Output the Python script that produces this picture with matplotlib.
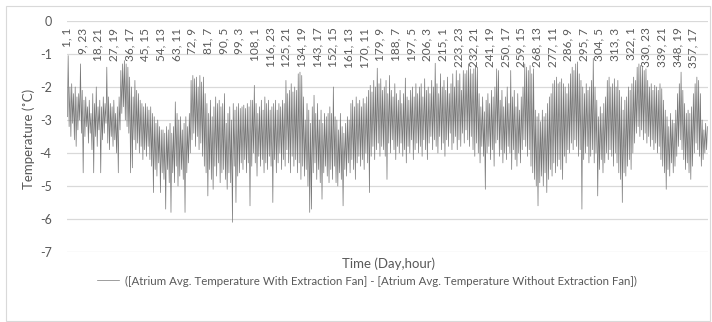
import numpy as np
import matplotlib
matplotlib.use('Agg')
import matplotlib.pyplot as plt
from matplotlib.patches import Rectangle

plt.rcParams['font.family'] = ['Lato', 'DejaVu Sans']

# Daily maximum of the hourly temperature difference (deg C), day 1..365
day_max = [
    -1.05, -2.0, -1.9, -2.2, -2.0, -2.3, -2.2, -1.3, -2.1, -2.4,
    -2.3, -2.6, -2.4, -2.8, -2.2, -2.5, -2.0, -2.6, -2.4, -2.6,
    -2.3, -2.5, -1.4, -2.3, -2.5, -2.6, -2.4, -2.8, -2.6, -2.3,
    -1.5, -1.3, -1.2, -1.3, -1.4, -1.7, -2.0, -2.3, -1.8, -2.1,
    -2.2, -2.4, -2.5, -2.6, -2.5, -2.6, -2.7, -2.6, -2.8, -2.9,
    -3.1, -3.0, -3.2, -3.3, -3.3, -3.4, -3.2, -3.3, -3.1, -3.4,
    -3.2, -2.45, -2.8, -3.0, -2.9, -3.3, -3.1, -2.9, -3.2, -2.8,
    -1.8, -1.65, -1.75, -1.7, -2.0, -1.65, -1.85, -1.7, -2.2, -2.5,
    -2.8, -2.4, -2.9, -2.6, -2.3, -2.5, -2.4, -2.6, -2.5, -2.2,
    -3.1, -2.8, -2.6, -3.0, -2.5, -2.7, -2.6, -2.5, -2.65, -2.6,
    -2.55, -2.65, -2.5, -2.6, -2.4, -2.4, -1.95, -2.5, -2.8, -2.6,
    -2.4, -2.7, -2.3, -2.5, -2.4, -2.7, -2.6, -2.5, -2.4, -2.7,
    -2.5, -2.6, -2.4, -2.5, -1.8, -2.2, -2.1, -1.9, -2.15, -2.0,
    -2.1, -1.6, -1.55, -1.65, -2.3, -3.0, -2.5, -2.7, -3.1, -2.6,
    -2.25, -2.8, -2.5, -3.0, -2.7, -3.1, -2.8, -2.9, -2.8, -2.6,
    -2.8, -2.0, -2.9, -3.0, -3.3, -2.8, -3.2, -3.4, -3.1, -2.9,
    -3.0, -2.5, -2.4, -2.6, -2.3, -2.5, -2.4, -2.6, -2.35, -2.5,
    -2.3, -2.1, -1.95, -2.15, -1.8, -2.0, -1.43, -1.9, -1.75, -2.1,
    -2.0, -1.8, -2.2, -1.65, -2.1, -2.3, -1.9, -2.2, -2.4, -2.1,
    -2.5, -2.2, -1.73, -2.3, -2.4, -2.1, -2.0, -2.3, -1.9, -2.2,
    -2.0, -1.9, -2.3, -1.75, -2.1, -2.0, -2.2, -1.8, -2.0, -1.28,
    -1.9, -2.2, -1.6, -2.0, -1.8, -2.1, -1.7, -2.2, -1.9, -1.6,
    -2.0, -1.5, -1.8, -1.6, -2.1, -1.5, -1.6, -1.5, -1.3, -1.45,
    -1.6, -1.45, -1.35, -1.4, -2.2, -2.6, -2.3, -2.75, -2.4, -2.2,
    -2.5, -2.1, -2.3, -2.0, -1.45, -1.5, -2.4, -2.1, -2.6, -2.3,
    -2.0, -2.5, -1.5, -2.3, -2.1, -2.6, -2.2, -2.7, -2.3, -2.0,
    -1.3, -1.4, -1.5, -1.35, -1.6, -1.45, -2.7, -2.9, -2.8, -3.05,
    -2.7, -2.9, -2.8, -2.5, -2.3, -2.2, -1.9, -1.8, -1.7, -1.9,
    -1.85, -1.75, -1.9, -2.0, -2.2, -1.9, -1.6, -1.4, -1.5, -1.3,
    -1.24, -1.6, -1.8, -2.0, -2.2, -1.9, -2.1, -2.0, -1.8, -1.13,
    -2.0, -2.4, -2.9, -2.6, -2.8, -2.5, -2.3, -1.8, -1.7, -2.0,
    -1.9, -1.75, -2.0, -1.8, -2.1, -2.3, -2.7, -2.4, -2.3, -2.0,
    -2.1, -1.9, -1.7, -1.8, -1.4, -1.3, -1.35, -1.4, -1.5, -1.45,
    -1.8, -2.0, -1.9, -2.1, -1.95, -2.0, -2.1, -1.9, -2.05, -2.4,
    -2.7, -2.9, -3.2, -2.8, -3.0, -3.1, -2.7, -2.2, -1.9, -1.55,
    -2.1, -2.5, -2.8, -2.7, -2.8, -2.6, -2.2, -1.9, -1.7, -1.8,
    -2.2, -3.0, -3.3, -3.1, -3.2,
]

# Daily minimum of the hourly temperature difference (deg C), day 1..365
day_min = [
    -2.9, -3.2, -3.5, -3.1, -3.6, -3.8, -3.3, -3.0, -3.4, -4.6,
    -3.5, -3.2, -3.7, -3.4, -3.9, -4.6, -3.5, -3.8, -3.3, -4.6,
    -3.6, -3.4, -3.1, -3.7, -3.9, -3.5, -3.8, -3.6, -4.0, -4.6,
    -3.3, -2.8, -2.6, -3.0, -3.2, -3.4, -4.6, -4.45, -3.6, -3.9,
    -3.7, -4.0, -3.8, -4.2, -3.9, -4.1, -3.8, -4.2, -4.4, -5.2,
    -4.5, -4.7, -4.3, -5.2, -4.6, -4.8, -5.7, -4.5, -4.9, -5.8,
    -4.6, -4.9, -4.4, -5.0, -4.7, -4.5, -4.8, -5.8, -4.6, -4.3,
    -4.0, -3.6, -3.4, -3.8, -3.5, -3.9, -3.7, -4.1, -4.4, -4.6,
    -5.3, -4.5, -4.8, -5.1, -4.4, -4.7, -4.3, -4.9, -4.6, -4.5,
    -4.8, -5.1, -4.6, -4.9, -6.1, -4.4, -5.5, -4.7, -4.6, -4.3,
    -4.5, -4.2, -4.6, -4.3, -5.6, -4.4, -4.0, -4.3, -4.7, -4.1,
    -4.4, -4.2, -4.6, -4.3, -4.5, -4.1, -4.4, -5.5, -4.2, -4.6,
    -4.3, -4.0, -4.5, -4.2, -4.4, -3.9, -4.3, -4.6, -4.1, -4.4,
    -4.2, -4.6, -4.3, -4.8, -4.4, -4.7, -4.5, -5.0, -5.8, -5.7,
    -4.6, -4.3, -4.8, -4.5, -4.9, -5.4, -4.6, -4.4, -4.7, -4.9,
    -4.5, -4.8, -4.4, -4.9, -5.0, -4.6, -4.8, -5.6, -4.5, -4.7,
    -4.3, -4.6, -4.2, -4.5, -4.8, -4.3, -4.1, -4.4, -4.2, -4.5,
    -4.0, -4.3, -5.2, -4.1, -3.8, -4.2, -3.9, -3.7, -4.1, -3.8,
    -3.9, -4.1, -4.8, -3.7, -4.0, -3.6, -3.9, -4.2, -3.8, -4.0,
    -3.7, -4.1, -3.9, -4.3, -3.8, -4.0, -3.6, -4.2, -3.9, -3.7,
    -4.0, -3.8, -4.1, -3.6, -3.9, -4.2, -3.7, -3.5, -3.9, -3.6,
    -3.8, -4.0, -3.5, -3.9, -3.7, -4.1, -3.6, -3.8, -3.4, -3.9,
    -3.7, -3.5, -3.9, -3.6, -3.8, -3.4, -3.7, -3.3, -3.6, -3.8,
    -3.5, -3.9, -4.1, -3.7, -4.0, -4.3, -3.8, -4.1, -5.1, -4.0,
    -3.8, -4.2, -3.9, -4.4, -3.7, -3.6, -4.1, -3.9, -4.3, -4.0,
    -4.2, -3.8, -4.0, -4.5, -3.9, -4.2, -4.4, -4.0, -4.3, -3.9,
    -3.6, -3.8, -4.1, -3.9, -4.4, -4.6, -4.8, -5.0, -5.6, -4.9,
    -4.7, -5.0, -4.6, -5.2, -4.8, -4.5, -4.7, -4.3, -4.6, -4.4,
    -4.2, -4.5, -4.8, -4.1, -4.3, -3.9, -4.0, -3.7, -3.9, -3.6,
    -3.8, -4.1, -3.9, -5.7, -4.2, -4.0, -3.8, -4.3, -4.1, -3.9,
    -4.3, -4.0, -5.3, -4.5, -4.2, -4.6, -4.3, -4.0, -4.2, -3.9,
    -4.1, -4.4, -4.0, -4.3, -4.6, -4.8, -5.5, -4.6, -4.7, -4.4,
    -4.2, -4.5, -4.0, -3.7, -3.4, -3.2, -3.5, -3.3, -3.6, -3.4,
    -3.7, -3.5, -3.8, -3.6, -3.9, -3.7, -4.0, -3.8, -4.2, -4.4,
    -4.6, -5.1, -4.5, -4.7, -4.3, -4.6, -4.4, -4.1, -3.8, -3.6,
    -3.9, -4.2, -4.5, -4.3, -4.6, -4.8, -4.4, -4.0, -3.7, -3.9,
    -4.1, -4.4, -4.2, -4.0, -3.9,
]

# Category labels shown on the time axis (day, hour)
tick_labels = [
    '1, 1', '9, 23', '18, 21', '27, 19', '36, 17', '45, 15', '54, 13',
    '63, 11', '72, 9', '81, 7', '90, 5', '99, 3', '108, 1', '116, 23',
    '125, 21', '134, 19', '143, 17', '152, 15', '161, 13', '170, 11',
    '179, 9', '188, 7', '197, 5', '206, 3', '215, 1', '223, 23',
    '232, 21', '241, 19', '250, 17', '259, 15', '268, 13', '277, 11',
    '286, 9', '295, 7', '304, 5', '313, 3', '322, 1', '330, 23',
    '339, 21', '348, 19', '357, 17',
]

n_hours = 8760
grey = '#595959'

# hourly index of each daily min (early morning) and max (afternoon)
days = np.arange(len(day_max))
x = np.column_stack((days * 24 + 5, days * 24 + 16)).ravel()
y = np.column_stack((day_min, day_max)).ravel()

fig = plt.figure(figsize=(7.12, 3.22), dpi=100)
ax = fig.add_axes([67 / 712, 1 - 252 / 322, 641 / 712, 231 / 322])

ax.plot(x, y, color='#777777', lw=0.5,
        label='([Atrium Avg. Temperature With Extraction Fan] - '
              '[Atrium Avg. Temperature Without Extraction Fan])')

ax.set_xlim(0, n_hours)
ax.set_ylim(-7, 0)
ax.set_yticks(np.arange(-7, 1))
ax.set_yticklabels([str(v) for v in range(-7, 1)])
ax.grid(axis='y', color='#d9d9d9', lw=0.9)
ax.set_axisbelow(True)
ax.set_xticks([])
ax.tick_params(axis='y', length=0, pad=11, labelsize=9, labelcolor=grey)
for s in ax.spines.values():
    s.set_visible(False)

# day,hour labels hang just under the zero line
for lab in tick_labels:
    d, h = [int(p) for p in lab.split(',')]
    ax.text((d - 1) * 24 + (h - 1), -0.2, lab, rotation=90, ha='center',
            va='top', fontsize=8.5, color=grey)

ax.set_ylabel('Temperature (˚C)', fontsize=9.5, color=grey, va='center')
ax.yaxis.set_label_coords(-38 / 641, 0.49)
fig.text(388 / 712, 1 - 264 / 322, 'Time (Day,hour)', ha='center',
         va='center', fontsize=9.5, color=grey)

fig.legend(loc='center', bbox_to_anchor=(367 / 712, 1 - 281 / 322),
           frameon=False, fontsize=8.3, labelcolor=grey, handlelength=1.9,
           handletextpad=0.5)

fig.patches.append(Rectangle((5.5 / 712, 1.5 / 322), 704 / 712, 315 / 322,
                             transform=fig.transFigure, fill=False,
                             edgecolor='#d9d9d9', lw=0.8))

fig.savefig('out.png', dpi=100)
